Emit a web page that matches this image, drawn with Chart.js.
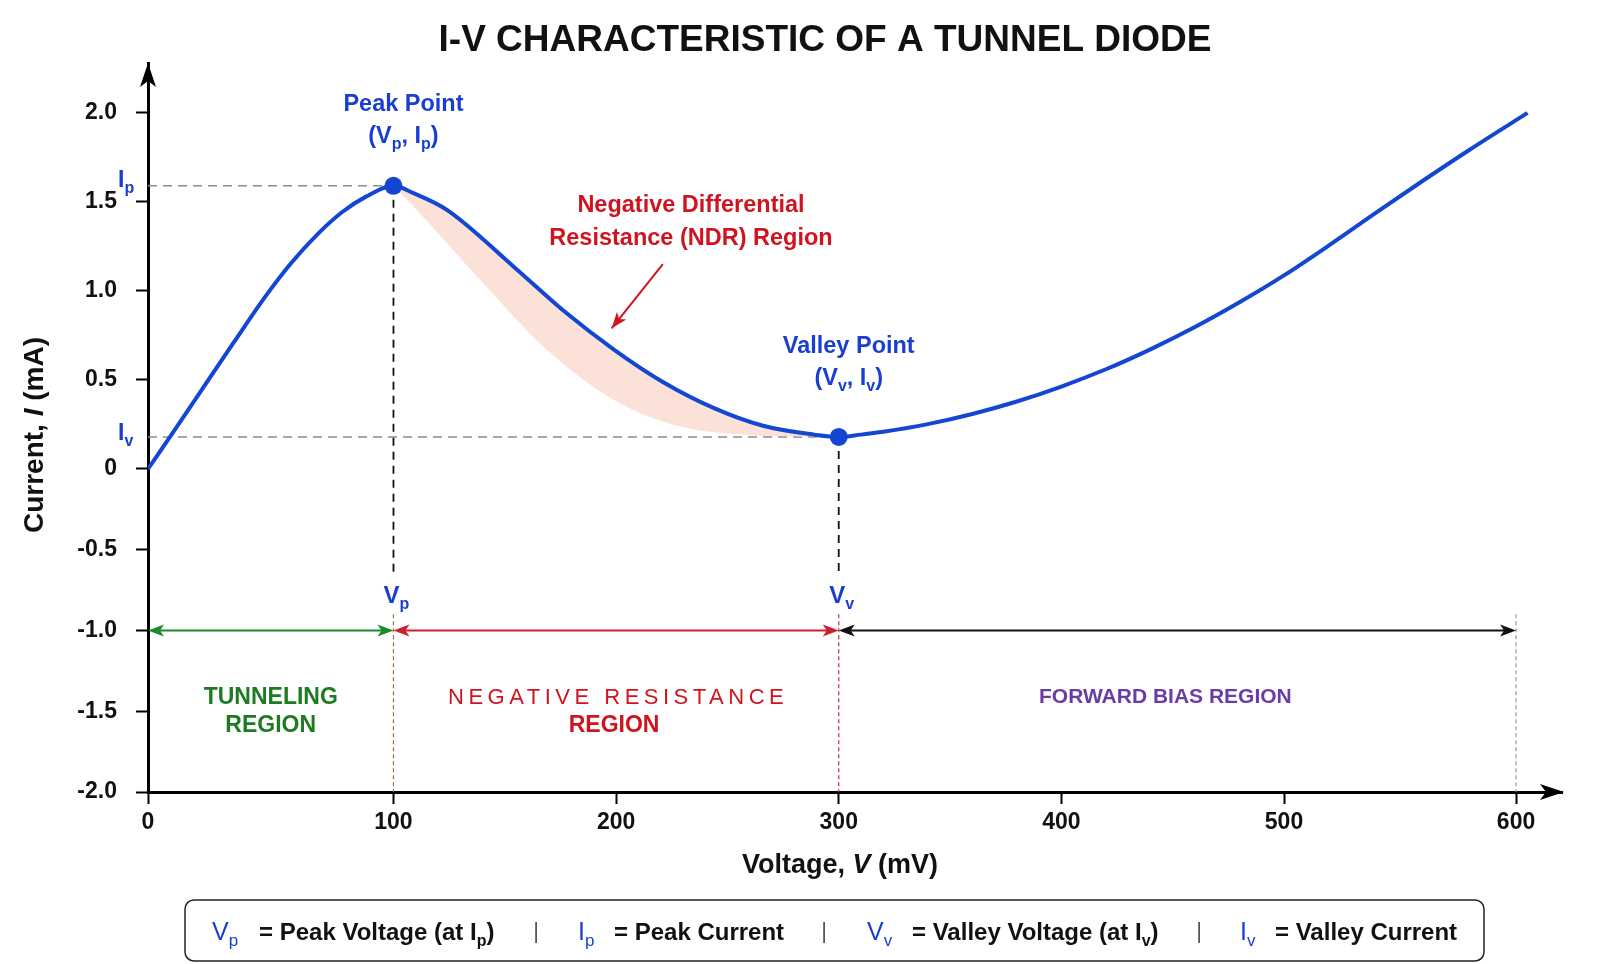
<!DOCTYPE html>
<html>
<head>
<meta charset="utf-8">
<title>I-V Characteristic of a Tunnel Diode</title>
<script src="https://cdn.jsdelivr.net/npm/chart.js@4.4.1/dist/chart.umd.min.js"></script>
<style>
  html, body { margin: 0; padding: 0; background: #fff; }
  #wrap { width: 1599px; height: 964px; position: relative; }
</style>
</head>
<body>
<div id="wrap"><canvas id="chart"></canvas></div>
<script>
// I-V curve (voltage in mV, current in mA)
const voltage = [0, 10, 21, 35, 48, 58, 69, 79, 89, 100,
  109, 124, 154, 176, 199, 221, 244, 266, 289, 300,
  310, 320, 340, 360, 380, 400, 420, 440, 460, 480, 500, 520, 540, 560, 580, 605];
const current = [0, 0.201, 0.426, 0.712, 0.972, 1.151, 1.318, 1.442, 1.531, 1.59,
  1.549, 1.455, 1.136, 0.893, 0.671, 0.489, 0.342, 0.243, 0.193, 0.18,
  0.193, 0.209, 0.252, 0.309, 0.379, 0.463, 0.56, 0.672, 0.797, 0.936, 1.087, 1.261, 1.442, 1.62, 1.793, 2.0];

// lower edge of the shaded NDR band
const shadeVoltage = [100, 109, 139, 169, 199, 229, 259, 289];
const shadeLower = [1.59, 1.474, 1.062, 0.669, 0.388, 0.238, 0.191, 0.181];

const peak = { v: 100, i: 1.59 };
const valley = { v: 300, i: 0.18 };

const xTickValues = [0, 100, 200, 300, 400, 500, 600];
const xTickLabels = ['0', '100', '200', '300', '400', '500', '600'];
const yTickValues = [-2, -1.5, -1, -0.5, 0, 0.5, 1, 1.5, 2];
const yTickLabels = ['-2.0', '-1.5', '-1.0', '-0.5', '0', '0.5', '1.0', '1.5', '2.0'];

const regionEdges = [0, 100, 300, 600];
const regionColors = ['#1b8a2a', '#cc1f2f', '#111'];

// the reference axes are not evenly spaced, so map values piecewise
const warp = {
  x: { stops: [0, 100, 500, 600, 620], fracs: [0, 0.1736, 0.8034, 0.9675, 1] },
  y: { stops: [-2, 0, 2.28], fracs: [0, 0.4431, 1] }
};

function lerpTable(xs, ys, v) {
  let k = 1;
  while (k < xs.length - 1 && v > xs[k]) k++;
  const t = (v - xs[k - 1]) / (xs[k] - xs[k - 1]);
  return ys[k - 1] + t * (ys[k] - ys[k - 1]);
}

class WarpScale extends Chart.LinearScale {
  getPixelForValue(value) {
    const w = warp[this.id];
    return this.getPixelForDecimal(lerpTable(w.stops, w.fracs, value));
  }
  getValueForPixel(pixel) {
    const w = warp[this.id];
    return lerpTable(w.fracs, w.stops, this.getDecimalForPixel(pixel));
  }
}
WarpScale.id = 'warp';
Chart.register(WarpScale);

const FONT = '"Liberation Sans", Arial, Helvetica, sans-serif';
const BLUE = '#1a3fd0';
const RED = '#d0141f';

const curve = voltage.map((v, k) => ({ x: v, y: current[k] }));
const ndrUpper = curve.filter(p => p.x >= peak.v && p.x <= valley.v);
const ndrLower = shadeVoltage.map((v, k) => ({ x: v, y: shadeLower[k] }));

// Draw text made of pieces (subscripts, italics, colours)
function richText(ctx, parts, x, y, size, align = 'center', color = '#111') {
  const fontOf = p => `${p.it ? 'italic ' : ''}${p.w || 'bold'} ${p.sub ? Math.round(size * 0.68) : size}px ${FONT}`;
  let total = 0;
  parts.forEach(p => { ctx.font = fontOf(p); total += ctx.measureText(p.t).width; });
  let cx = align === 'left' ? x : x - total / 2;
  ctx.textAlign = 'left';
  ctx.textBaseline = 'middle';
  parts.forEach(p => {
    ctx.font = fontOf(p);
    ctx.fillStyle = p.c || color;
    ctx.fillText(p.t, cx, y + (p.sub ? size * 0.34 : 0));
    cx += ctx.measureText(p.t).width;
  });
}

function arrowHead(ctx, x, y, angle, len, half, color) {
  ctx.save();
  ctx.translate(x, y);
  ctx.rotate(angle);
  ctx.beginPath();
  ctx.moveTo(0, 0);
  ctx.lineTo(-len, -half);
  ctx.lineTo(-len * 0.75, 0);
  ctx.lineTo(-len, half);
  ctx.closePath();
  ctx.fillStyle = color;
  ctx.fill();
  ctx.restore();
}

function dashed(ctx, x1, y1, x2, y2, color, width, dash) {
  ctx.save();
  ctx.beginPath();
  ctx.setLineDash(dash);
  ctx.strokeStyle = color;
  ctx.lineWidth = width;
  ctx.moveTo(x1, y1);
  ctx.lineTo(x2, y2);
  ctx.stroke();
  ctx.restore();
}

const annotate = {
  id: 'annotate',
  beforeDraw(chart) {
    const ctx = chart.ctx;
    ctx.save();
    ctx.fillStyle = '#fff';
    ctx.fillRect(0, 0, chart.width, chart.height);
    ctx.restore();
  },
  beforeDatasetsDraw(chart) {
    const { ctx, scales: { x, y } } = chart;
    // reference lines to the axes
    dashed(ctx, x.getPixelForValue(0), y.getPixelForValue(peak.i), x.getPixelForValue(peak.v), y.getPixelForValue(peak.i), '#8c8c8c', 1.5, [9, 6]);
    dashed(ctx, x.getPixelForValue(0), y.getPixelForValue(valley.i), x.getPixelForValue(valley.v), y.getPixelForValue(valley.i), '#8c8c8c', 1.5, [9, 6]);
    dashed(ctx, x.getPixelForValue(peak.v), y.getPixelForValue(peak.i), x.getPixelForValue(peak.v), y.getPixelForValue(-0.65), '#111', 1.8, [8, 6]);
    dashed(ctx, x.getPixelForValue(valley.v), y.getPixelForValue(valley.i), x.getPixelForValue(valley.v), y.getPixelForValue(-0.65), '#111', 1.8, [8, 6]);
    // region boundaries
    const edgeColors = [null, '#a0703a', '#d02a3a', '#999'];
    regionEdges.forEach((v, k) => {
      if (!edgeColors[k]) return;
      dashed(ctx, x.getPixelForValue(v), y.getPixelForValue(-0.9), x.getPixelForValue(v), y.getPixelForValue(-2), edgeColors[k], 1.2, [4, 3]);
    });
  },
  afterDraw(chart) {
    const { ctx, chartArea: area, scales: { x, y } } = chart;
    ctx.save();

    // Title
    ctx.font = `bold 37px ${FONT}`;
    ctx.fillStyle = '#111';
    ctx.textAlign = 'center';
    ctx.textBaseline = 'middle';
    ctx.fillText('I-V CHARACTERISTIC OF A TUNNEL DIODE', 825, 41);

    // Axis arrows
    arrowHead(ctx, area.left, area.top, -Math.PI / 2, 24, 8, '#000');
    arrowHead(ctx, area.right + 2, area.bottom, 0, 24, 8, '#000');

    // Axis titles
    richText(ctx, [{ t: 'Voltage, ' }, { t: 'V', it: true }, { t: ' (mV)' }], 840, 866, 27);
    ctx.save();
    ctx.translate(35, 435);
    ctx.rotate(-Math.PI / 2);
    richText(ctx, [{ t: 'Current, ' }, { t: 'I', it: true }, { t: ' (mA)' }], 0, 0, 28);
    ctx.restore();

    // Ip / Iv marks on the current axis
    richText(ctx, [{ t: 'I' }, { t: 'p', sub: true }], 118, y.getPixelForValue(peak.i) - 5, 23, 'left', BLUE);
    richText(ctx, [{ t: 'I' }, { t: 'v', sub: true }], 118, y.getPixelForValue(valley.i) - 3, 23, 'left', BLUE);

    // Peak / valley labels
    const px = x.getPixelForValue(peak.v), py = y.getPixelForValue(peak.i);
    richText(ctx, [{ t: 'Peak Point' }], px + 10, py - 81, 23.5, 'center', BLUE);
    richText(ctx, [{ t: '(V' }, { t: 'p', sub: true }, { t: ', I' }, { t: 'p', sub: true }, { t: ')' }], px + 10, py - 49, 23.5, 'center', BLUE);
    const vx = x.getPixelForValue(valley.v), vy = y.getPixelForValue(valley.i);
    richText(ctx, [{ t: 'Valley Point' }], vx + 10, vy - 90, 23.5, 'center', BLUE);
    richText(ctx, [{ t: '(V' }, { t: 'v', sub: true }, { t: ', I' }, { t: 'v', sub: true }, { t: ')' }], vx + 10, vy - 58, 23.5, 'center', BLUE);

    // NDR label and pointer
    richText(ctx, [{ t: 'Negative Differential' }], 691, 206, 23.5, 'center', RED);
    richText(ctx, [{ t: 'Resistance (NDR) Region' }], 691, 239, 23.5, 'center', RED);
    const ax1 = x.getPixelForValue(221), ay1 = y.getPixelForValue(1.15);
    const ax2 = x.getPixelForValue(198), ay2 = y.getPixelForValue(0.79);
    ctx.beginPath();
    ctx.strokeStyle = RED;
    ctx.lineWidth = 2;
    ctx.moveTo(ax1, ay1);
    ctx.lineTo(ax2, ay2);
    ctx.stroke();
    arrowHead(ctx, ax2, ay2, Math.atan2(ay2 - ay1, ax2 - ax1), 16, 6, RED);

    // Vp / Vv labels
    const lineY = y.getPixelForValue(-1);
    richText(ctx, [{ t: 'V' }, { t: 'p', sub: true }], px + 3, lineY - 34, 24, 'center', BLUE);
    richText(ctx, [{ t: 'V' }, { t: 'v', sub: true }], vx + 3, lineY - 34, 24, 'center', BLUE);

    // Region arrows
    for (let k = 0; k < regionEdges.length - 1; k++) {
      const a = x.getPixelForValue(regionEdges[k]), b = x.getPixelForValue(regionEdges[k + 1]);
      ctx.beginPath();
      ctx.strokeStyle = regionColors[k];
      ctx.lineWidth = 2;
      ctx.moveTo(a + 4, lineY);
      ctx.lineTo(b - 4, lineY);
      ctx.stroke();
      arrowHead(ctx, a, lineY, Math.PI, 16, 6, regionColors[k]);
      arrowHead(ctx, b, lineY, 0, 16, 6, regionColors[k]);
    }
    const mid = k => (x.getPixelForValue(regionEdges[k]) + x.getPixelForValue(regionEdges[k + 1])) / 2;
    richText(ctx, [{ t: 'TUNNELING' }], mid(0), lineY + 67, 23, 'center', '#1e7b22');
    richText(ctx, [{ t: 'REGION' }], mid(0), lineY + 95, 23, 'center', '#1e7b22');
    ctx.save();
    ctx.letterSpacing = '4.5px';
    richText(ctx, [{ t: 'NEGATIVE RESISTANCE', w: 'normal' }], mid(1) + 2, lineY + 67, 22, 'center', RED);
    ctx.restore();
    richText(ctx, [{ t: 'REGION' }], mid(1) - 2, lineY + 95, 23, 'center', RED);
    richText(ctx, [{ t: 'FORWARD BIAS REGION' }], mid(2) - 12, lineY + 67, 21, 'center', '#6a3ca6');

    // Symbol key
    ctx.beginPath();
    ctx.roundRect(185, 900, 1299, 61, 9);
    ctx.strokeStyle = '#222';
    ctx.lineWidth = 1.5;
    ctx.stroke();
    const ky = 933;
    const sym = (t, s) => [{ t, w: 'normal', c: BLUE }, { t: s, sub: true, w: 'normal', c: BLUE }];
    richText(ctx, sym('V', 'p'), 212, ky, 25, 'left');
    richText(ctx, [{ t: '= Peak Voltage (at I' }, { t: 'p', sub: true }, { t: ')' }], 259, ky, 24, 'left');
    richText(ctx, sym('I', 'p'), 578, ky, 25, 'left');
    richText(ctx, [{ t: '= Peak Current' }], 614, ky, 24, 'left');
    richText(ctx, sym('V', 'v'), 867, ky, 25, 'left');
    richText(ctx, [{ t: '= Valley Voltage (at I' }, { t: 'v', sub: true }, { t: ')' }], 912, ky, 24, 'left');
    richText(ctx, sym('I', 'v'), 1240, ky, 25, 'left');
    richText(ctx, [{ t: '= Valley Current' }], 1275, ky, 24, 'left');
    [536, 824, 1199].forEach(sx => richText(ctx, [{ t: '|', w: 'normal' }], sx, ky - 1, 22, 'center', '#555'));

    ctx.restore();
  }
};

const tickFont = { family: FONT, size: 23, weight: 'bold' };

new Chart(document.getElementById('chart'), {
  type: 'line',
  data: {
    datasets: [
      {
        data: curve,
        borderColor: '#1446d4',
        borderWidth: 4,
        pointRadius: 0,
        cubicInterpolationMode: 'monotone',
        fill: false,
        order: 1
      },
      {
        type: 'scatter',
        data: [{ x: peak.v, y: peak.i }, { x: valley.v, y: valley.i }],
        backgroundColor: '#1446d4',
        borderWidth: 0,
        pointRadius: 9,
        order: 0
      },
      {
        data: ndrUpper,
        borderWidth: 0,
        pointRadius: 0,
        cubicInterpolationMode: 'monotone',
        fill: false,
        order: 10
      },
      {
        data: ndrLower,
        borderWidth: 0,
        pointRadius: 0,
        cubicInterpolationMode: 'monotone',
        backgroundColor: 'rgba(248, 196, 178, 0.5)',
        fill: '-1',
        order: 9
      }
    ]
  },
  options: {
    responsive: true,
    maintainAspectRatio: false,
    animation: false,
    events: [],
    layout: { padding: { top: 63, right: 37, bottom: 0, left: 0 } },
    plugins: {
      legend: { display: false },
      tooltip: { enabled: false },
      title: { display: false }
    },
    scales: {
      x: {
        type: 'warp',
        min: 0,
        max: 620,
        afterBuildTicks: scale => { scale.ticks = xTickValues.map(v => ({ value: v })); },
        afterFit: scale => { scale.height = 172; },
        ticks: {
          autoSkip: false,
          maxRotation: 0,
          padding: 5,
          color: '#111',
          font: tickFont,
          callback: (value, index) => xTickLabels[index]
        },
        grid: { drawOnChartArea: false, drawTicks: true, tickLength: 12, tickWidth: 2, tickColor: '#000' },
        border: { display: true, color: '#000', width: 3 }
      },
      y: {
        type: 'warp',
        min: -2,
        max: 2.28,
        afterBuildTicks: scale => { scale.ticks = yTickValues.map(v => ({ value: v })); },
        afterFit: scale => { scale.width = 148; },
        ticks: {
          autoSkip: false,
          padding: 19,
          color: '#111',
          font: tickFont,
          callback: (value, index) => yTickLabels[index]
        },
        grid: { drawOnChartArea: false, drawTicks: true, tickLength: 12, tickWidth: 2, tickColor: '#000' },
        border: { display: true, color: '#000', width: 3 }
      }
    }
  },
  plugins: [annotate]
});
</script>
</body>
</html>
